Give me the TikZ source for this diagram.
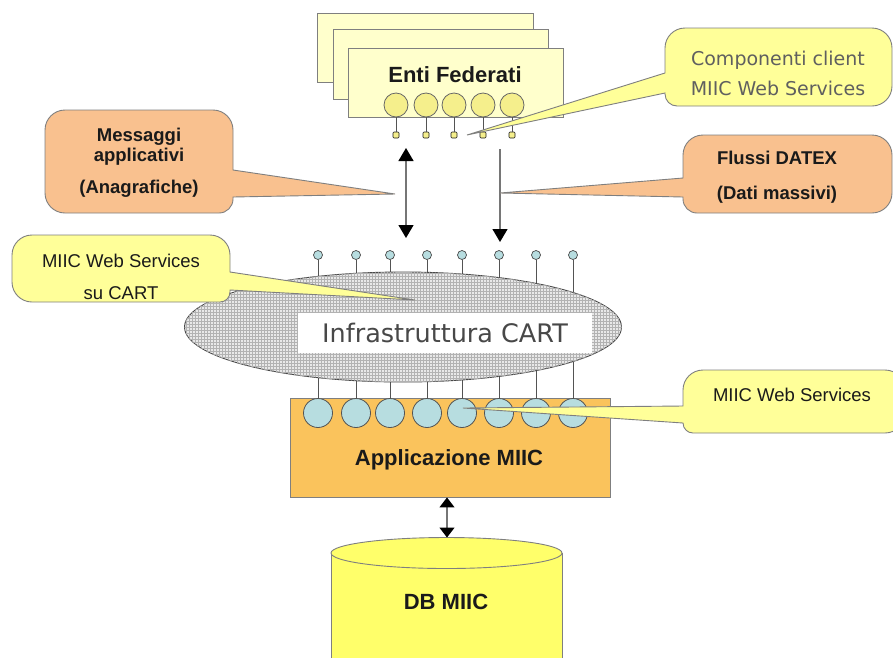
\documentclass[tikz,border=0pt]{standalone}
\usepackage{fontspec}
\setmainfont{Liberation Sans}
\newfontfamily\widefont{DejaVu Sans}
\usetikzlibrary{arrows.meta,positioning,calc,patterns,shapes.geometric}
\definecolor{pale}{HTML}{FFFFCC}
\definecolor{lemon}{HTML}{FFFF99}
\definecolor{bead}{HTML}{F5EF8C}
\definecolor{salmon}{HTML}{F9C18F}
\definecolor{amber}{HTML}{FAC35C}
\definecolor{aqua}{HTML}{B7DDE0}
\definecolor{dbyel}{HTML}{FFFF6A}
\definecolor{rim}{HTML}{7F7F7F}
\definecolor{ink}{HTML}{1A1A1A}
\begin{document}
\begin{tikzpicture}[x=1pt,y=-1pt,>={Triangle[width=15pt,length=13pt,color=black]},
  font=\fontsize{18.5}{21}\selectfont,
  sheet/.style={draw=rim,fill=pale,line width=.9pt,anchor=north west},
  bead/.style={circle,draw=rim!80!black,fill=bead,minimum size=24pt,inner sep=0pt,line width=.8pt},
  plug/.style={draw=ink,fill=bead,rounded corners=1pt,minimum size=6pt,inner sep=0pt,line width=.6pt},
  pin/.style={circle,draw=ink!80,fill=aqua,minimum size=9pt,inner sep=0pt,line width=.7pt},
  port/.style={circle,draw=ink!75,fill=aqua,minimum size=29pt,inner sep=0pt,line width=.8pt},
  link/.style={draw=ink!75,line width=.9pt},
  flow/.style={line width=1.3pt,draw=ink!60},
  balloon/.style={draw=rim,line width=.9pt,rounded corners=20pt},
  title/.style={font=\bfseries\fontsize{22}{26}\selectfont,text=ink},
  note/.style={align=center,text=ink,inner sep=0pt}]
\useasboundingbox (0,0) rectangle (893,657);

% Enti Federati
\node[sheet,minimum width=216pt,minimum height=69pt] (sheetA) at (317,13) {};
\node[sheet,minimum width=215pt,minimum height=70pt] (sheetB) at (333,29) {};
\node[sheet,minimum width=215pt,minimum height=69pt] (sheetC) at (348,48) {};
\node[title] (enti) at (455,75) {Enti Federati};
\foreach \x [count=\i] in {396,426,454,483,512}{
  \node[bead] (ef\i) at (\x,105) {};
  \node[plug] (sq\i) at (\x,135) {};
  \draw[link] (ef\i) -- (sq\i);
}

% flussi verso CART
\coordinate (msgtop) at (406,148);
\coordinate (msgbot) at (406,238);
\coordinate (dtxtop) at (500,149);
\coordinate (dtxbot) at (500,242);
\draw[flow,<->] (msgtop) -- (msgbot);
\draw[flow,->] (dtxtop) -- (dtxbot);

% Applicazione MIIC
\node[draw=rim,fill=amber,line width=.9pt,minimum width=320pt,minimum height=99pt] (app) at (450,447.5) {};
\node[title] (apptxt) at (449,460) {Applicazione MIIC};
\foreach \x [count=\i] in {318,356,390,427,462,499,536,573}{
  \node[port] (ws\i) at (\x,413) {};
  \draw[link] (ws\i.north) -- (\x,340);
  \node[pin] (pin\i) at (\x,255) {};
  \draw[link] (pin\i.south) -- (\x,310);
}

% Infrastruttura CART
\node[ellipse,draw=ink!80,line width=.9pt,fill=gray!18,minimum width=437pt,minimum height=110pt,
  postaction={pattern=grid,pattern color=gray!60}] (cart) at (403,327) {};
\node[fill=white,minimum width=294pt,minimum height=40pt,inner sep=0pt,
  font=\widefont\fontsize{25.5}{28}\selectfont,text=ink!80] (carttxt) at (445,333) {Infrastruttura CART};

% DB MIIC
\fill[dbyel] (331,553) rectangle (562,680);
\draw[rim,line width=.9pt] (331,553) -- (331,680) (562,553) -- (562,680);
\draw[rim,line width=.9pt,fill=dbyel] (446.5,553) ellipse [x radius=115.5,y radius=15.5];
\coordinate (dbtop) at (447,537.5);
\node[title] (dbtxt) at (446,602) {DB MIIC};
\draw[flow,{Triangle[width=15pt,length=10pt,color=black]}-{Triangle[width=15pt,length=10pt,color=black]}] (app.south -| dbtop) -- (dbtop);

% fumetti
\coordinate (msgtip) at (395,194);
\coordinate (cmptip) at (467,135);
\coordinate (dtxtip) at (500,193);
\coordinate (carttip) at (415,300);
\coordinate (wstip) at (463,408);

\draw[balloon,fill=salmon] (139,110) -- (233,110) [sharp corners] -- (233,170) -- (msgtip) -- (233,197)
  [rounded corners=14pt] -- (233,213) [rounded corners=20pt] -- (45,213) -- (45,110) -- cycle;
\node[note,font=\bfseries\fontsize{18.5}{20}\selectfont] (msgtxt) at (139,163) {Messaggi\\applicativi\\[12pt](Anagrafiche)};

\draw[balloon,fill=lemon] (778,28) -- (892,28) -- (892,106) [rounded corners=12pt] -- (665,106)
  [sharp corners] -- (665,93) -- (cmptip) -- (665,73) [rounded corners=20pt] -- (665,28) -- cycle;
\node[note,font=\widefont\fontsize{19}{30}\selectfont,text=ink!70] (cmptxt) at (778,73) {Componenti client\\MIIC Web Services};

\draw[balloon,fill=salmon] (788,135) -- (892,135) -- (892,213) [rounded corners=14pt] -- (683,213)
  [sharp corners] -- (683,197) -- (dtxtip) -- (683,178) [rounded corners=20pt] -- (683,135) -- cycle;
\node[note,font=\bfseries\fontsize{18.5}{21}\selectfont] (dtxtxt) at (777,177) {Flussi DATEX\\[14pt](Dati massivi)};

\draw[balloon,fill=lemon] (121,235) -- (230,235) [sharp corners] -- (230,272) -- (carttip) -- (230,290)
  [rounded corners=10pt] -- (230,302) [rounded corners=20pt] -- (12,302) -- (12,235) -- cycle;
\begin{scope}
  \clip (12,235) rectangle (230,301);
  \node[note,font=\fontsize{18.5}{32}\selectfont] (carttxtb) at (121,277) {MIIC Web Services\\su CART};
\end{scope}

\draw[balloon,fill=lemon] (800,370) -- (905,370) -- (905,433) [rounded corners=10pt] -- (683,433)
  [sharp corners] -- (683,423) -- (wstip) -- (683,406) [rounded corners=20pt] -- (683,370) -- cycle;
\node[note] (wstxt) at (792,395) {MIIC Web Services};
\end{tikzpicture}
\end{document}
